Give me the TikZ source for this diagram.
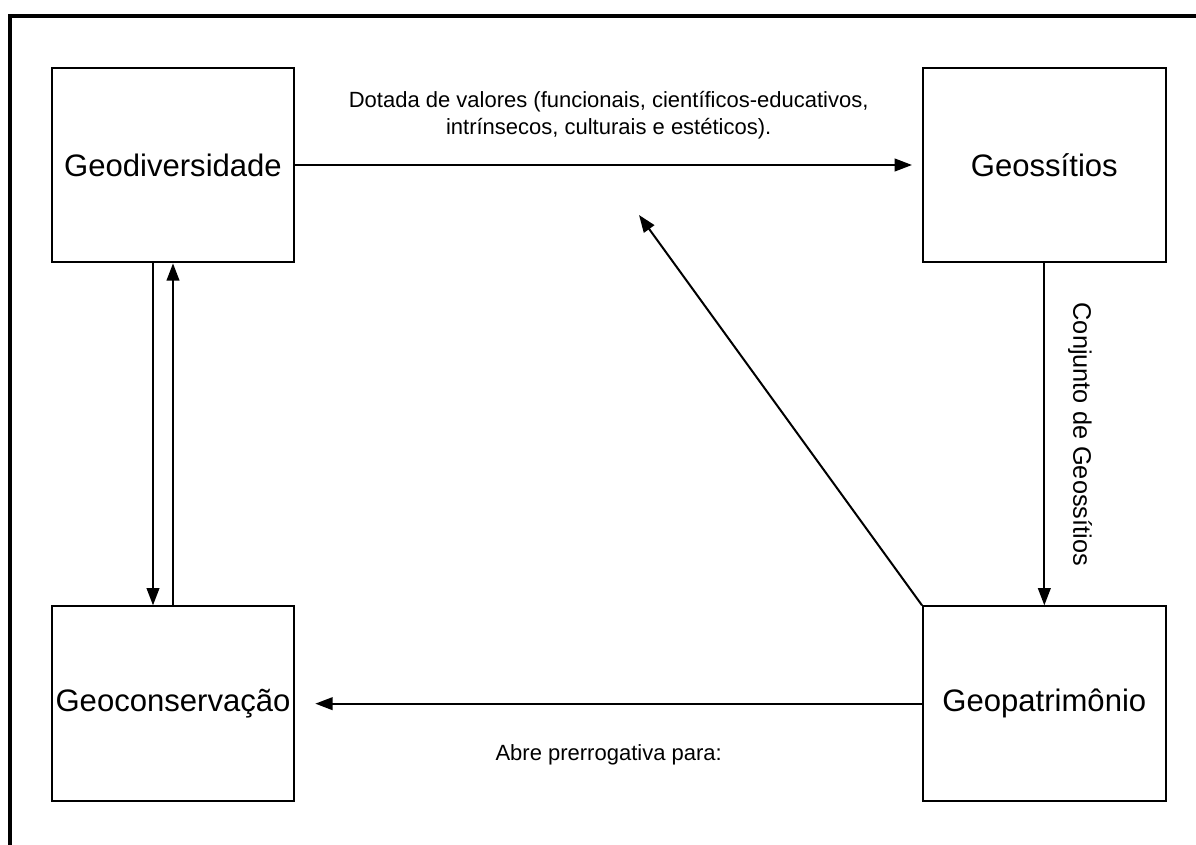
\documentclass[tikz,border=0pt]{standalone}
\usepackage{fontspec}
\setmainfont{Liberation Sans}
\usetikzlibrary{positioning,arrows.meta}

\begin{document}
\begin{tikzpicture}[
    x=0.75pt,y=-0.75pt,
    box/.style={rectangle,draw=black,line width=1.5pt,minimum width=182pt,minimum height=146pt,inner sep=0pt,font=\fontsize{23.3}{28}\selectfont},
    arrow/.style={-{Triangle[length=13pt,width=9.5pt]},line width=1.5pt},
    lbl/.style={inner sep=0pt,font=\fontsize{16.5}{20}\selectfont}
]

\useasboundingbox (0,0) rectangle (1196,845);

% outer frame (cut at right and bottom)
\draw[line width=3pt] (10,845) -- (10,16) -- (1196,16);

% boxes
\node[box] (geodiv) at (173,165) {Geodiversidade};
\node[box,right=470pt of geodiv] (geossitios) {Geossítios};
\node[box,below=256.5pt of geodiv] (geocons) {Geoconservação};
\node[box,below=256.5pt of geossitios] (geopat) {Geopatrimônio};

% top
\draw[arrow,shorten >=7.5pt] (geodiv) -- node[lbl,align=center,above=19pt] {Dotada de valores (funcionais, científicos-educativos,\\intrínsecos, culturais e estéticos).} (geossitios);

% left pair
\draw[arrow] ([xshift=-15pt]geodiv.south) -- ([xshift=-15pt]geocons.north);
\draw[arrow] (geocons) -- (geodiv);

% right
\draw[arrow] (geossitios) -- node[lbl,sloped,above=17pt,font=\fontsize{19}{22}\selectfont] {Conjunto de Geossítios} (geopat);

% bottom
\draw[arrow,shorten >=15pt] (geopat) -- node[lbl,midway,below=30pt] {Abre prerrogativa para:} (geocons);

% diagonal
\coordinate (diagtip) at (639,215);
\draw[arrow] (geopat.north west) -- (diagtip);

\end{tikzpicture}
\end{document}
